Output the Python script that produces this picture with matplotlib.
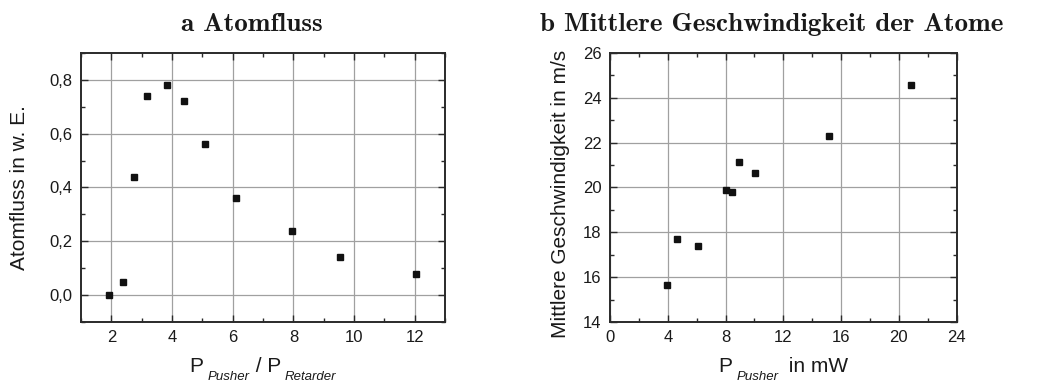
import matplotlib
matplotlib.use("Agg")
import matplotlib.pyplot as plt
from matplotlib.ticker import MultipleLocator, FuncFormatter

# a: atom flux vs power ratio
ratio = [1.91, 2.39, 2.74, 3.17, 3.82, 4.39, 5.09, 6.12, 7.95, 9.52, 12.03]
flux = [0.00, 0.05, 0.44, 0.74, 0.78, 0.72, 0.56, 0.36, 0.24, 0.14, 0.08]

# b: mean velocity vs pusher power
p_pusher = [3.92, 4.64, 6.07, 8.05, 8.47, 8.95, 10.04, 15.19, 20.82]
velocity = [15.65, 17.70, 17.41, 19.89, 19.81, 21.14, 20.65, 22.30, 24.58]

plt.rcParams["font.family"] = ["Liberation Sans", "DejaVu Sans"]
TXT = "#1a1a1a"

fig = plt.figure(figsize=(10.47, 3.83), dpi=100)
ax1 = fig.add_axes([0.0774, 0.1593, 0.3477, 0.7023])
ax2 = fig.add_axes([0.5826, 0.1593, 0.3311, 0.7023])


def style(ax):
    ax.set_axisbelow(True)
    ax.grid(True, which="major", color="#a0a0a0", linewidth=0.9)
    for s in ax.spines.values():
        s.set_linewidth(1.4)
        s.set_color("#2a2a2a")
    ax.tick_params(which="both", direction="in", top=True, right=True,
                   labelsize=12, colors="#2a2a2a", labelcolor=TXT, pad=6)
    ax.tick_params(which="major", length=5, width=1.0)
    ax.tick_params(which="minor", length=3, width=1.0)


comma = FuncFormatter(lambda v, _: f"{v:.1f}".replace(".", ","))

ax1.plot(ratio, flux, "s", color="#111111", markersize=5)
ax1.set_xlim(1, 13)
ax1.set_ylim(-0.1, 0.9)
ax1.xaxis.set_major_locator(MultipleLocator(2))
ax1.xaxis.set_minor_locator(MultipleLocator(1))
ax1.yaxis.set_major_locator(MultipleLocator(0.2))
ax1.yaxis.set_minor_locator(MultipleLocator(0.1))
ax1.yaxis.set_major_formatter(comma)
style(ax1)

ax2.plot(p_pusher, velocity, "s", color="#111111", markersize=5)
ax2.set_xlim(0, 24)
ax2.set_ylim(14, 26)
ax2.xaxis.set_major_locator(MultipleLocator(4))
ax2.xaxis.set_minor_locator(MultipleLocator(2))
ax2.yaxis.set_major_locator(MultipleLocator(2))
ax2.yaxis.set_minor_locator(MultipleLocator(1))
style(ax2)

# titles (Computer Modern bold)
fig.text(0.2407, 0.919, "a Atomfluss", family="cmb10", fontsize=19.5,
         ha="center", va="baseline", color=TXT)
fig.text(0.737, 0.919, "b Mittlere Geschwindigkeit der Atome", family="cmb10",
         fontsize=19.5, ha="center", va="baseline", color=TXT)

# y labels
fig.text(0.019, 0.5105, "Atomfluss in w. E.", rotation=90, fontsize=15,
         ha="center", va="center", color=TXT)
fig.text(0.535, 0.4935, "Mittlere Geschwindigkeit in m/s", rotation=90,
         fontsize=15, ha="center", va="center", color=TXT)


def rich_label(xc, y, parts):
    # parts: (text, size, style, drop in px, gap after in px)
    fig.canvas.draw()
    r = fig.canvas.get_renderer()
    items = []
    for s, size, st, dy, gap in parts:
        t = fig.text(0, 0, s, fontsize=size, style=st, color=TXT,
                     va="baseline", ha="left")
        w = t.get_window_extent(r).width
        items.append((t, w, dy, gap))
    total = sum(w + g for _, w, _, g in items)
    x = xc * fig.bbox.width - total / 2
    for t, w, dy, gap in items:
        t.set_position((x / fig.bbox.width, y - dy / fig.bbox.height))
        x += w + gap


rich_label(0.2512, 0.029, [("P", 15, "normal", 0, 4),
                           ("Pusher", 9.5, "italic", 8, 0),
                           (" / P", 15, "normal", 0, 4),
                           ("Retarder", 9.5, "italic", 8, 0)])
rich_label(0.748, 0.029, [("P", 15, "normal", 0, 4),
                          ("Pusher", 9.5, "italic", 8, 4),
                          (" in mW", 15, "normal", 0, 0)])

fig.savefig("out.png", dpi=100)
